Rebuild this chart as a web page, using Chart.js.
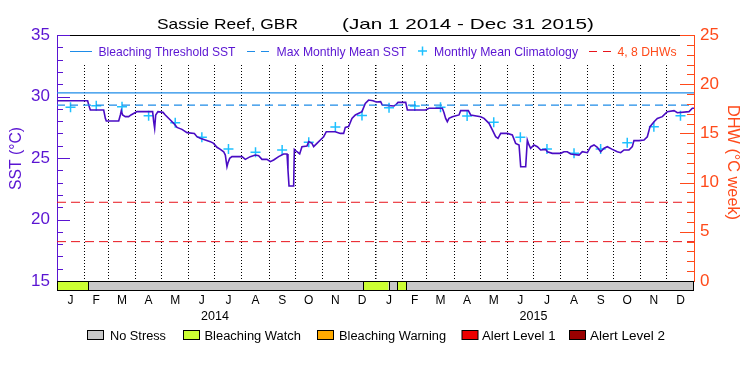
<!DOCTYPE html>
<html>
<head>
<meta charset="utf-8">
<script src="https://cdn.jsdelivr.net/npm/chart.js@4"></script>
<style>
  body { margin: 0; background: #fff; }
  canvas { display: block; }
</style>
</head>
<body>
<canvas id="graficaSST" width="750" height="375"></canvas>
<script>
// Serie SST diaria (dias desde 1 ene 2014, grados C)
const sstDias = [
  0, 35.1, 36.7, 38.2, 53.5, 55.4, 56.5, 70.7, 72.6, 73.7,
  75.2, 78.3, 82.1, 84.8, 91.7, 109.6, 110.8, 111.9, 113.1, 115.7,
  121.5, 124.1, 129.9, 133.7, 137.5, 143.2, 149, 157.4, 160.4, 164.2,
  170, 175.7, 179.5, 183.3, 187.2, 191, 192.9, 194.8, 196, 197.9,
  200.5, 212, 215.8, 221.5, 227.3, 231.1, 234.9, 240.6, 244.5, 248.3,
  254, 259.7, 263.6, 264.7, 265.9, 271.2, 272, 275, 278.1, 280.7,
  286.5, 288.4, 292.2, 294.1, 297.9, 301.8, 305.6, 308.6, 318.9, 324.7,
  328.5, 330.4, 334.2, 338, 341.9, 349.5, 353.3, 357.1, 362.1, 365.9,
  370.9, 372.8, 386.2, 388.1, 390.8, 399.6, 401.5, 422.5, 426.3, 441.6,
  443.5, 445.4, 447.3, 449.2, 453.1, 460.7, 462.6, 471.4, 474.1, 485.5,
  489.4, 495.1, 498.9, 502.7, 505.4, 508.5, 516.1, 521.8, 525.6, 529.5,
  531.4, 537.1, 539, 540.9, 542.8, 546.6, 550.5, 554.3, 560, 561.9,
  567.7, 577.2, 581, 584.8, 588.7, 598.2, 602, 607.8, 611.6, 615.4,
  619.2, 623, 626.9, 630.7, 636.4, 642.1, 646, 649.8, 655.5, 659.3,
  661.2, 667, 672.7, 676.5, 679.6, 684.2, 688, 693.7, 699.4, 707.1,
  710.9, 724.3, 728.1, 730
];
const sstValores = [
  29.66, 29.66, 29.23, 28.90, 28.90, 28.22, 28.01, 28.01, 28.50, 28.85,
  28.50, 28.36, 28.36, 28.50, 28.77, 28.77, 27.95, 27.41, 28.50, 28.77,
  28.71, 28.50, 28.09, 27.82, 27.49, 27.33, 27.06, 27.00, 26.73, 26.60,
  26.46, 26.33, 26.19, 25.87, 25.70, 25.51, 25.24, 24.29, 24.62, 24.97,
  25.11, 25.11, 24.89, 25.11, 25.24, 25.19, 24.89, 24.89, 24.70, 24.84,
  25.11, 25.33, 25.33, 24.02, 22.72, 22.72, 25.70, 25.51, 25.33, 25.92,
  25.98, 26.33, 26.19, 25.92, 26.19, 26.46, 26.73, 27.14, 27.14, 27.00,
  27.00, 27.49, 27.55, 28.22, 28.50, 28.77, 29.44, 29.71, 29.66, 29.55,
  29.58, 29.31, 29.23, 29.31, 29.52, 29.52, 28.90, 28.90, 29.04, 29.04,
  28.68, 28.22, 27.95, 28.22, 28.36, 28.50, 28.85, 28.85, 28.50, 28.36,
  28.22, 27.82, 27.28, 26.73, 26.60, 27.00, 27.00, 26.87, 26.19, 26.06,
  24.29, 24.29, 26.46, 26.06, 25.79, 26.06, 25.92, 25.65, 25.70, 25.51,
  25.38, 25.38, 25.51, 25.51, 25.33, 25.24, 25.51, 25.43, 25.92, 26.06,
  25.87, 25.51, 25.79, 25.92, 25.70, 25.51, 25.43, 25.65, 25.65, 25.92,
  26.41, 26.41, 26.46, 26.73, 27.55, 27.95, 28.22, 28.36, 28.77, 28.85,
  28.68, 28.77, 29.04, 29.04
];

// Climatologia mensual (una cruz por mes, 2014 y 2015)
const climValores = [
  29.12, 29.25, 29.17, 28.44, 27.87, 26.68, 25.73, 25.46, 25.65, 26.28, 27.52, 28.46,
  29.09, 29.23, 29.12, 28.41, 27.90, 26.68, 25.73, 25.38, 25.73, 26.25, 27.55, 28.44
];

const umbralBlanqueo = 30.3;   // Bleaching Threshold SST
const mmm = 29.3;              // Max Monthly Mean SST
const nivelesDHW = [4, 8];

const letrasMes = ['J', 'F', 'M', 'A', 'M', 'J', 'J', 'A', 'S', 'O', 'N', 'D'];
const anios = ['2014', '2015'];

// Barra de estres (dias desde 1 ene 2014)
const estresInicio = [0, 36, 351, 380, 390, 400];
const estresFin = [36, 351, 380, 390, 400, 730];
const estresNivel = [1, 0, 1, 0, 1, 0];
const estresNombres = ['No Stress', 'Bleaching Watch', 'Bleaching Warning', 'Alert Level 1', 'Alert Level 2'];
const estresColores = ['#c8c8c8', '#ccff33', '#ffaa00', '#ee0000', '#990000'];

// inicio de cada mes en dias
const inicioMes = [];
for (let i = 0; i <= 24; i++) inicioMes.push((Date.UTC(2014, i, 1) - Date.UTC(2014, 0, 1)) / 864e5);
const mitadMes = inicioMes.slice(0, -1).map((d, i) => (d + inicioMes[i + 1]) / 2);

const morado = '#5a14d2';
const lineaSST = '#4a0cc4';
const naranja = '#ff4a1a';
const rojo = '#e8141c';
const azul = '#1e8ce8';
const cian = '#1ec0ff';

Chart.defaults.font.family = 'Liberation Sans';

function texto(ctx, str, left, base, ancho) {
  const w = ctx.measureText(str).width;
  ctx.save();
  ctx.translate(left, base);
  ctx.scale(ancho / w, 1);
  ctx.textAlign = 'left';
  ctx.textBaseline = 'alphabetic';
  ctx.fillText(str, 0, 0);
  ctx.restore();
}

function textoGirado(ctx, str, cx, cy, largo, ang) {
  const w = ctx.measureText(str).width;
  ctx.save();
  ctx.translate(cx, cy);
  ctx.rotate(ang);
  ctx.scale(largo / w, 1);
  ctx.textAlign = 'center';
  ctx.textBaseline = 'middle';
  ctx.fillText(str, 0, 0);
  ctx.restore();
}

function linea(ctx, x1, y1, x2, y2) {
  ctx.beginPath();
  ctx.moveTo(x1, y1);
  ctx.lineTo(x2, y2);
  ctx.stroke();
}

const extras = {
  id: 'extras',
  beforeDatasetsDraw(chart) {
    const { ctx, chartArea: a } = chart;
    // hueco de la leyenda superior (sin lineas de mes)
    ctx.save();
    ctx.fillStyle = '#fff';
    ctx.fillRect(a.left + 1, a.top + 1, a.right - a.left - 2, 27);
    ctx.restore();
  },
  afterDraw(chart) {
    const { ctx, chartArea: a, scales } = chart;
    const x = scales.x, y = scales.y, y2 = scales.y2;
    ctx.save();
    ctx.lineWidth = 1;

    // borde superior
    ctx.strokeStyle = '#000';
    linea(ctx, a.left, a.top + 0.5, a.right, a.top + 0.5);

    // marcas del eje izquierdo
    ctx.strokeStyle = morado;
    for (let v = 15; v <= 35; v++) {
      const py = Math.round(y.getPixelForValue(v)) + 0.5;
      linea(ctx, a.left, py, a.left + (v % 5 === 0 ? 13 : 6), py);
    }
    // marcas del eje derecho
    ctx.strokeStyle = naranja;
    for (let v = 0; v <= 25; v++) {
      const py = Math.round(y2.getPixelForValue(v)) + 0.5;
      linea(ctx, a.right, py, a.right - (v % 5 === 0 ? 14 : 7), py);
    }

    // barra de estres
    const yb = a.bottom, hb = 9;
    estresInicio.forEach((d, i) => {
      const x1 = x.getPixelForValue(d), x2 = x.getPixelForValue(estresFin[i]);
      ctx.fillStyle = estresColores[estresNivel[i]];
      ctx.fillRect(x1, yb, x2 - x1, hb);
    });
    ctx.strokeStyle = '#000';
    ctx.strokeRect(a.left + 0.5, yb + 0.5, a.right - a.left - 1, hb);
    estresInicio.slice(1).forEach(d => {
      const px = Math.round(x.getPixelForValue(d)) + 0.5;
      linea(ctx, px, yb, px, yb + hb);
    });

    // titulo
    ctx.fillStyle = '#000';
    ctx.font = '15px Liberation Sans';
    texto(ctx, 'Sassie Reef, GBR', 157, 28.5, 141);
    texto(ctx, '(Jan 1 2014 - Dec 31 2015)', 342, 28.5, 252);

    // leyenda superior
    ctx.font = '13px Liberation Sans';
    ctx.strokeStyle = azul;
    linea(ctx, 70, 51.5, 92, 51.5);
    ctx.setLineDash([8, 6]);
    linea(ctx, 247, 51.5, 270, 51.5);
    ctx.strokeStyle = rojo;
    linea(ctx, 589, 51.5, 611, 51.5);
    ctx.setLineDash([]);
    ctx.strokeStyle = cian;
    ctx.lineWidth = 1.5;
    linea(ctx, 418, 51, 427, 51);
    linea(ctx, 422.5, 46.5, 422.5, 55.5);
    ctx.lineWidth = 1;
    ctx.fillStyle = morado;
    texto(ctx, 'Bleaching Threshold SST', 98.5, 55.5, 137);
    texto(ctx, 'Max Monthly Mean SST', 276.5, 55.5, 130);
    texto(ctx, 'Monthly Mean Climatology', 434, 55.5, 144);
    ctx.fillStyle = naranja;
    texto(ctx, '4, 8 DHWs', 617.5, 55.5, 59);

    // titulos de ejes
    ctx.font = '17px Liberation Sans';
    ctx.fillStyle = morado;
    textoGirado(ctx, 'SST (\u00B0C)', 16.5, 158.5, 63, -Math.PI / 2);
    ctx.fillStyle = naranja;
    textoGirado(ctx, 'DHW (\u00B0C week)', 732.5, 162.5, 115, Math.PI / 2);

    // meses y anios
    ctx.fillStyle = '#000';
    ctx.font = '12px Liberation Sans';
    ctx.textAlign = 'center';
    ctx.textBaseline = 'alphabetic';
    mitadMes.forEach((d, i) => ctx.fillText(letrasMes[i % 12], x.getPixelForValue(d), 303.5));
    ctx.font = '12.5px Liberation Sans';
    anios.forEach((t, i) => ctx.fillText(t, x.getPixelForValue(inicioMes[12 * i + 6]), 319.5));

    // leyenda inferior
    const cajas = [87.5, 183.5, 317.5, 462, 569.5];
    const textos = [[110, 56], [204.5, 96.5], [339, 107], [482, 73.5], [590, 75]];
    ctx.font = '12px Liberation Sans';
    estresNombres.forEach((n, i) => {
      ctx.fillStyle = estresColores[i];
      ctx.fillRect(cajas[i], 330.5, 16, 9);
      ctx.strokeStyle = '#000';
      ctx.strokeRect(cajas[i], 330.5, 16, 9);
      ctx.fillStyle = '#000';
      texto(ctx, n, textos[i][0], 339.5, textos[i][1]);
    });
    ctx.restore();
  }
};

const lineaH = (v) => [{ x: 0, y: v }, { x: 730, y: v }];

new Chart(document.getElementById('graficaSST').getContext('2d'), {
  type: 'line',
  data: {
    datasets: [
      {
        label: '4 DHW', yAxisID: 'y2', data: lineaH(nivelesDHW[0]),
        borderColor: rojo, borderWidth: 1, borderDash: [9, 5], pointRadius: 0
      },
      {
        label: '8 DHW', yAxisID: 'y2', data: lineaH(nivelesDHW[1]),
        borderColor: rojo, borderWidth: 1, borderDash: [9, 5], pointRadius: 0
      },
      {
        label: 'Bleaching Threshold SST', yAxisID: 'y', data: lineaH(umbralBlanqueo),
        borderColor: azul, borderWidth: 1.2, pointRadius: 0
      },
      {
        label: 'Max Monthly Mean SST', yAxisID: 'y', data: lineaH(mmm),
        borderColor: azul, borderWidth: 1.2, borderDash: [8, 5], pointRadius: 0
      },
      {
        label: 'SST', yAxisID: 'y',
        data: sstDias.map((d, i) => ({ x: d, y: sstValores[i] })),
        borderColor: lineaSST, borderWidth: 1.6, pointRadius: 0, tension: 0
      },
      {
        label: 'Monthly Mean Climatology', yAxisID: 'y',
        data: mitadMes.map((d, i) => ({ x: d, y: climValores[i] })),
        showLine: false, pointStyle: 'cross', pointRadius: 5,
        pointBorderColor: cian, pointBorderWidth: 1.5
      }
    ]
  },
  options: {
    responsive: false,
    animation: false,
    layout: { padding: { top: 35, bottom: 94, left: 0, right: 0 } },
    plugins: { legend: { display: false }, tooltip: { enabled: false } },
    scales: {
      x: {
        type: 'linear', min: 0, max: 730,
        afterBuildTicks: s => { s.ticks = inicioMes.slice(1, -1).map(v => ({ value: v })); },
        afterFit: s => { s.height = 0; },
        ticks: { display: false },
        grid: {
          color: '#000', drawTicks: false,
          lineWidth: c => (c.tick && c.tick.value === 365 ? 1.5 : 1)
        },
        border: { display: false, dash: [1, 2] }
      },
      y: {
        position: 'left', min: 15, max: 35,
        afterFit: s => { s.width = 57; },
        ticks: { stepSize: 5, color: morado, font: { size: 17 }, padding: 7 },
        grid: { display: false, drawTicks: false },
        border: { color: morado, width: 1 }
      },
      y2: {
        position: 'right', min: 0, max: 25,
        afterFit: s => { s.width = 56; },
        ticks: { stepSize: 5, color: naranja, font: { size: 17 }, padding: 6 },
        grid: { display: false, drawTicks: false },
        border: { color: naranja, width: 1 }
      }
    }
  },
  plugins: [extras]
});
</script>
</body>
</html>
